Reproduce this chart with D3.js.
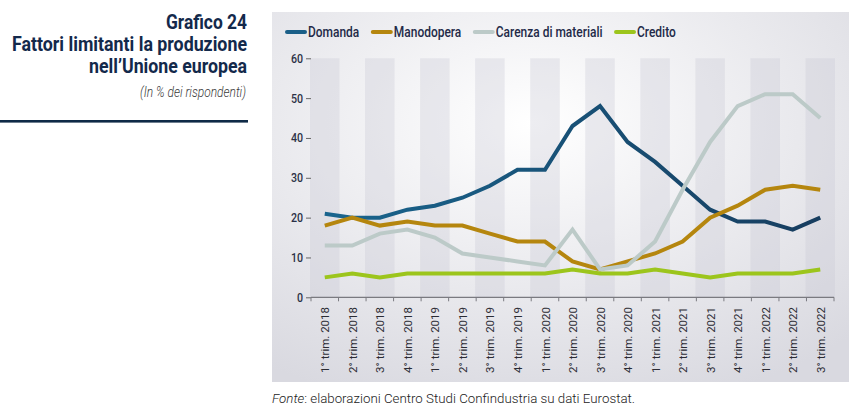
<!DOCTYPE html>
<html><head><meta charset="utf-8">
<script src="https://cdn.jsdelivr.net/npm/d3@7"></script>
<style>body{margin:0;background:#fff} svg{display:block}</style>
</head><body><svg id="c" width="857" height="413"></svg>
<script>
const categories = ["1° trim. 2018","2° trim. 2018","3° trim. 2018","4° trim. 2018",
  "1° trim. 2019","2° trim. 2019","3° trim. 2019","4° trim. 2019",
  "1° trim. 2020","2° trim. 2020","3° trim. 2020","4° trim. 2020",
  "1° trim. 2021","2° trim. 2021","3° trim. 2021","4° trim. 2021",
  "1° trim. 2022","2° trim. 2022","3° trim. 2022"];
const domanda    = [21,20,20,22,23,25,28,32,32,43,48,39,34,28,22,19,19,17,20];
const manodopera = [18,20,18,19,18,18,16,14,14,9,7,9,11,14,20,23,27,28,27];
const carenza    = [13,13,16,17,15,11,10,9,8,17,7,8,14,27,39,48,51,51,45];
const credito    = [5,6,5,6,6,6,6,6,6,7,6,6,7,6,5,6,6,6,7];
const seriesNames = ["Domanda","Manodopera","Carenza di materiali","Credito"];
const yTicks = [0,10,20,30,40,50,60];
const titleLines = ["Grafico 24","Fattori limitanti la produzione","nell\u2019Unione europea"];
const subtitle = "(In % dei rispondenti)";

const svg = d3.select("#c");
const defs = svg.append("defs");
const bg = defs.append("radialGradient").attr("id","bg").attr("cx","45%").attr("cy","30%").attr("r","80%");
bg.append("stop").attr("offset","0%").attr("stop-color","#ffffff");
bg.append("stop").attr("offset","100%").attr("stop-color","#d9d9e0");
const dg = defs.append("linearGradient").attr("id","dg").attr("gradientUnits","userSpaceOnUse")
  .attr("x1",311).attr("x2",834).attr("y1",0).attr("y2",0);
dg.append("stop").attr("offset","0%").attr("stop-color","#19668f");
dg.append("stop").attr("offset","100%").attr("stop-color","#173c5e");

const colors = ["url(#dg)","#b5860e","#bccac8","#9cc51c"];
const legendColors = ["#1a5f88","#b5860e","#bccac8","#9cc51c"];

// panel
svg.append("rect").attr("x",272).attr("y",12).attr("width",577).attr("height",370).attr("fill","url(#bg)");

const x = d3.scaleBand().domain(categories).range([311,834]).padding(0);
const y = d3.scaleLinear().domain([0,60]).range([297.3,58.3]);

// bands
svg.append("g").selectAll("rect").data(categories.filter((d,i)=>i%2===0)).join("rect")
  .attr("x",d=>x(d)-1).attr("width",x.bandwidth()+2)
  .attr("y",y(60)).attr("height",y(0)-y(60))
  .attr("fill","#c8c8d6").attr("fill-opacity",0.33);

// y axis
const ya = svg.append("g").attr("transform","translate(311,0)")
  .call(d3.axisLeft(y).tickValues(yTicks).tickSize(5).tickPadding(3));
ya.select(".domain").remove();
ya.selectAll("line").attr("stroke","#666");
ya.selectAll("text").attr("font-family","Roboto").attr("font-size",12.5).attr("font-weight",500)
  .attr("fill","#2b3147").attr("transform","scale(0.85,1)").attr("x",-8/0.85);

// x axis
const xa = svg.append("g");
xa.append("line").attr("x1",311).attr("x2",834).attr("y1",y(0)).attr("y2",y(0)).attr("stroke","#7a7a80").attr("stroke-width",1.2);
const bounds = categories.map(c=>x(c)).concat([x(categories[categories.length-1])+x.bandwidth()]);
xa.selectAll("line.t").data(bounds).join("line").attr("class","t")
  .attr("x1",d=>d).attr("x2",d=>d).attr("y1",y(0)).attr("y2",y(0)+4).attr("stroke","#7a7a80");
xa.selectAll("text").data(categories).join("text")
  .attr("transform",d=>`translate(${x(d)+x.bandwidth()/2+0.5},307) rotate(-90)`)
  .attr("text-anchor","end").attr("dy","0.35em")
  .attr("font-family","Roboto").attr("font-size",11.5).attr("fill","#2b2b33").text(d=>d);

// lines
const seriesData = [domanda, manodopera, carenza, credito];
const line = d3.line().x((d,i)=>x(categories[i])+x.bandwidth()/2).y(d=>y(d));
svg.append("g").selectAll("path").data(seriesData).join("path")
  .attr("d",d=>line(d)).attr("fill","none")
  .attr("stroke",(d,i)=>colors[i]).attr("stroke-width",4).attr("stroke-linejoin","miter").attr("stroke-miterlimit",3);

// legend
const lg = svg.append("g");
let lx = 287;
const sc = 0.855;
seriesNames.forEach((n,i)=>{
  lg.append("line").attr("x1",lx).attr("x2",lx+18).attr("y1",32).attr("y2",32)
    .attr("stroke",legendColors[i]).attr("stroke-width",4).attr("stroke-linecap","round");
  const t = lg.append("text").attr("transform",`translate(${lx+21},36.5) scale(${sc},1)`)
    .attr("font-family","Roboto").attr("font-weight",500).attr("font-size",14).attr("fill","#232a48").text(n);
  const w = t.node().getComputedTextLength()*sc;
  lx += 21 + w + 13.5;
});

// title
const titleW = [81,235,158];
titleLines.forEach((t,i)=>{
  svg.append("text").attr("x",247).attr("y",29+i*22).attr("text-anchor","end")
    .attr("font-family","Roboto").attr("font-weight",700).attr("font-size",21)
    .attr("fill","#13294b").attr("textLength",titleW[i]).attr("lengthAdjust","spacingAndGlyphs").text(t);
});
svg.append("text").attr("x",246).attr("y",97).attr("text-anchor","end")
  .attr("font-family","Roboto").attr("font-style","italic").attr("font-weight",300).attr("font-size",14.5)
  .attr("fill","#3a3a3a").attr("textLength",106).attr("lengthAdjust","spacingAndGlyphs").text(subtitle);
svg.append("rect").attr("x",0).attr("y",120).attr("width",248).attr("height",2.6).attr("fill","#0f2a47");

// source
const src = svg.append("text").attr("x",272).attr("y",403).attr("font-family","Roboto").attr("font-weight",300)
  .attr("font-size",13.3).attr("fill","#222");
src.append("tspan").attr("font-style","italic").text("Fonte");
src.append("tspan").text(": elaborazioni Centro Studi Confindustria su dati Eurostat.");
</script></body></html>
